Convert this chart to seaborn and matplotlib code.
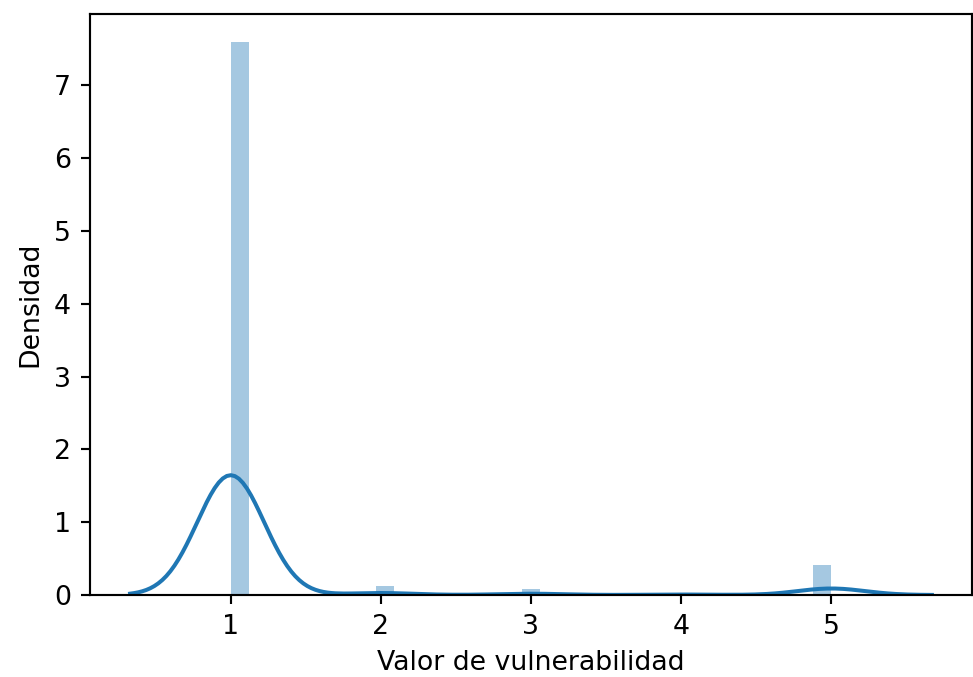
import warnings
warnings.filterwarnings("ignore")
import numpy as np
import pandas as pd
import matplotlib
matplotlib.use("Agg")
import matplotlib.pyplot as plt
import seaborn as sns

valores = [1, 2, 3, 4, 5]
conteos = [1032, 17, 11, 4, 56]

datos = pd.Series(np.repeat(valores, conteos), name="vulnerabilidad")

DPI = 193
plt.rcParams["font.family"] = ["DejaVu Sans"]
fig = plt.figure(figsize=(973 / DPI, 677 / DPI), dpi=DPI)
ax = fig.add_axes([90 / 973, (677 - 595) / 677, (972 - 90) / 973, (595 - 14) / 677])

sns.distplot(datos, bins=33, ax=ax)

ax.set_xlabel("Valor de vulnerabilidad")
ax.set_ylabel("Densidad")

fig.savefig("out.png", dpi=DPI)
